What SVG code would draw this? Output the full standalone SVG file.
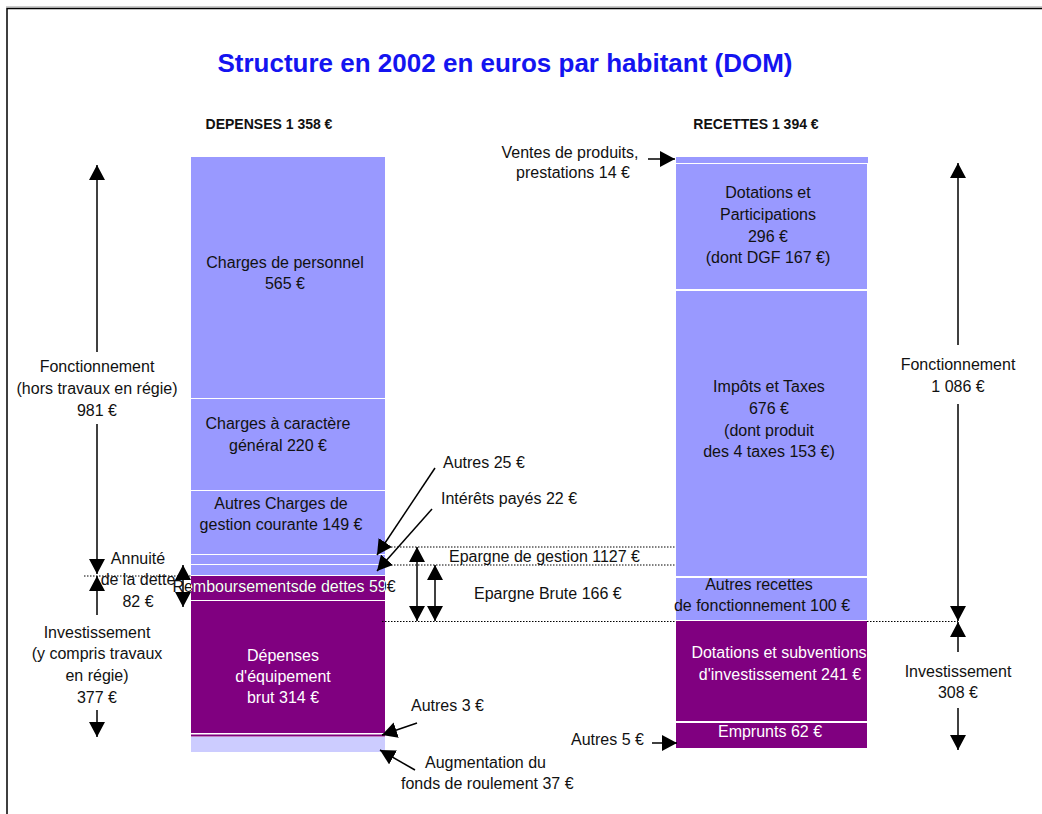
<svg xmlns="http://www.w3.org/2000/svg" width="1042" height="814" viewBox="0 0 1042 814">
<style>
text{font-family:"Liberation Sans",Arial,sans-serif;font-size:16px;fill:#111}
.c{text-anchor:middle}
.w{fill:#fff}
.h{font-weight:bold;font-size:14px}
.t{font-weight:bold;font-size:26px;fill:#1414f0}
.lp{fill:#9999ff}
.dp{fill:#800080}
.xp{fill:#ccccff}
.ln{stroke:#000;stroke-width:1.5;fill:none}
.dot{stroke:#000;stroke-width:1;stroke-dasharray:1.5 1.5;fill:none}
</style>
<defs>
<marker id="ah" markerUnits="userSpaceOnUse" markerWidth="16" markerHeight="17" refX="15" refY="8" orient="auto-start-reverse"><path d="M0,0 L15,8 L0,16 z" fill="#000"/></marker>
<clipPath id="barclip"><rect x="191" y="576" width="194" height="24"/></clipPath>
</defs>
<rect width="1042" height="814" fill="#fff"/>
<g id="frame"><path d="M7,814 V8.5 H1042" stroke="#000" stroke-width="1.5" fill="none"/><path d="M6,7 H1042" stroke="#999" stroke-width="1"/></g>
<text class="t c" x="505" y="72">Structure en 2002 en euros par habitant (DOM)</text>
<text class="h c" x="269" y="129">DEPENSES 1 358 €</text>
<text class="h c" x="756" y="129">RECETTES 1 394 €</text>

<g id="depenses">
<g id="charges-personnel"><rect class="lp" x="191" y="157" width="194" height="241"/><text class="c" x="285" y="268">Charges de personnel</text><text class="c" x="285" y="289">565 €</text></g>
<g id="charges-generales"><rect class="lp" x="191" y="399" width="194" height="91"/><text class="c" x="278" y="429">Charges à caractère</text><text class="c" x="278" y="451">général 220 €</text></g>
<g id="autres-charges"><rect class="lp" x="191" y="491" width="194" height="63"/><text class="c" x="281" y="509">Autres Charges de</text><text class="c" x="281" y="530">gestion courante 149 €</text></g>
<g id="autres25"><rect class="lp" x="191" y="555" width="194" height="9"/></g>
<g id="interets"><rect class="lp" x="191" y="565" width="194" height="10"/></g>
<g id="remboursements"><rect class="dp" x="191" y="576" width="194" height="24"/><text class="c" x="284" y="592">Remboursementsde dettes 59€</text><text class="c w" x="284" y="592" clip-path="url(#barclip)">Remboursementsde dettes 59€</text></g>
<g id="equipement"><rect class="dp" x="191" y="601" width="194" height="132"/><text class="c w" x="283" y="661">Dépenses</text><text class="c w" x="283" y="682">d'équipement</text><text class="c w" x="283" y="703">brut 314 €</text></g>
<g id="autres3"><rect class="dp" x="191" y="734.5" width="194" height="2"/></g>
<g id="fonds-roulement"><rect class="xp" x="191" y="737" width="194" height="15"/></g>
</g>

<g id="recettes">
<g id="ventes"><rect class="lp" x="676" y="157" width="192" height="6"/></g>
<g id="dotations"><rect class="lp" x="676" y="164" width="191" height="125"/><text class="c" x="768" y="198">Dotations et</text><text class="c" x="768" y="220">Participations</text><text class="c" x="768" y="242">296 €</text><text class="c" x="768" y="263">(dont DGF 167 €)</text></g>
<g id="impots"><rect class="lp" x="676" y="291" width="191" height="285"/><text class="c" x="769" y="392">Impôts et Taxes</text><text class="c" x="769" y="414">676 €</text><text class="c" x="769" y="436">(dont produit</text><text class="c" x="769" y="457">des 4 taxes 153 €)</text></g>
<g id="autres-recettes"><rect class="lp" x="676" y="578" width="191" height="42"/><text class="c" x="759" y="590">Autres recettes</text><text class="c" x="762" y="611">de fonctionnement 100 €</text></g>
<g id="dotations-invest"><rect class="dp" x="676" y="621" width="191" height="100"/><text class="c w" x="779" y="658">Dotations et subventions</text><text class="c w" x="780" y="680">d'investissement 241 €</text></g>
<g id="emprunts"><rect class="dp" x="676" y="723" width="191" height="25"/><text class="c w" x="770" y="737">Emprunts 62 €</text></g>
</g>

<g id="labels">
<text class="c" x="97" y="372">Fonctionnement</text>
<text class="c" x="97" y="394">(hors travaux en régie)</text>
<text class="c" x="97" y="416">981 €</text>
<text class="c" x="138" y="564">Annuité</text>
<text class="c" x="138" y="585">de la dette</text>
<text class="c" x="138" y="607">82 €</text>
<text class="c" x="97" y="638">Investissement</text>
<text class="c" x="97" y="659">(y compris travaux</text>
<text class="c" x="97" y="681">en régie)</text>
<text class="c" x="97" y="703">377 €</text>
<text class="c" x="958" y="370">Fonctionnement</text>
<text class="c" x="958" y="392">1 086 €</text>
<text class="c" x="958" y="677">Investissement</text>
<text class="c" x="958" y="698">308 €</text>
<text class="c" x="570" y="158">Ventes de produits,</text>
<text class="c" x="573" y="178">prestations 14 €</text>
<text x="443" y="468">Autres 25 €</text>
<text x="441" y="504">Intérêts payés 22 €</text>
<text x="449" y="562">Epargne de gestion 1127 €</text>
<text x="474" y="599">Epargne Brute 166 €</text>
<text x="411" y="711">Autres 3 €</text>
<text x="425" y="768">Augmentation du</text>
<text x="401" y="789">fonds de roulement 37 €</text>
<text x="571" y="745">Autres 5 €</text>
</g>

<g id="connectors">
<path class="dot" d="M385,547 H676"/>
<path class="dot" d="M385,565 H676"/>
<path class="dot" d="M382,621.5 H676"/>
<path class="dot" d="M867,621.5 H958"/>
<path class="dot" d="M84,576 H191"/>
<line class="ln" x1="97" y1="352" x2="97" y2="165" marker-end="url(#ah)"/>
<line class="ln" x1="97" y1="424" x2="97" y2="574" marker-end="url(#ah)"/>
<line class="ln" x1="97" y1="615" x2="97" y2="576" marker-end="url(#ah)"/>
<line class="ln" x1="97" y1="710" x2="97" y2="737" marker-end="url(#ah)"/>
<line class="ln" x1="183" y1="565" x2="183" y2="607" marker-start="url(#ah)" marker-end="url(#ah)"/>
<line class="ln" x1="417" y1="547" x2="417" y2="621" marker-start="url(#ah)" marker-end="url(#ah)"/>
<line class="ln" x1="435" y1="565" x2="435" y2="621" marker-start="url(#ah)" marker-end="url(#ah)"/>
<line class="ln" x1="958" y1="345" x2="958" y2="163" marker-end="url(#ah)"/>
<line class="ln" x1="958" y1="404" x2="958" y2="621" marker-end="url(#ah)"/>
<line class="ln" x1="958" y1="652" x2="958" y2="622" marker-end="url(#ah)"/>
<line class="ln" x1="958" y1="708" x2="958" y2="750" marker-end="url(#ah)"/>
<line class="ln" x1="435" y1="468" x2="377" y2="555" marker-end="url(#ah)"/>
<line class="ln" x1="432" y1="509" x2="377" y2="571" marker-end="url(#ah)"/>
<line class="ln" x1="417" y1="723" x2="382" y2="735" marker-end="url(#ah)"/>
<line class="ln" x1="415" y1="770" x2="380" y2="750" marker-end="url(#ah)"/>
<line class="ln" x1="652" y1="743" x2="677" y2="743" marker-end="url(#ah)"/>
<line class="ln" x1="648" y1="159" x2="675" y2="159" marker-end="url(#ah)"/>
</g>
</svg>
